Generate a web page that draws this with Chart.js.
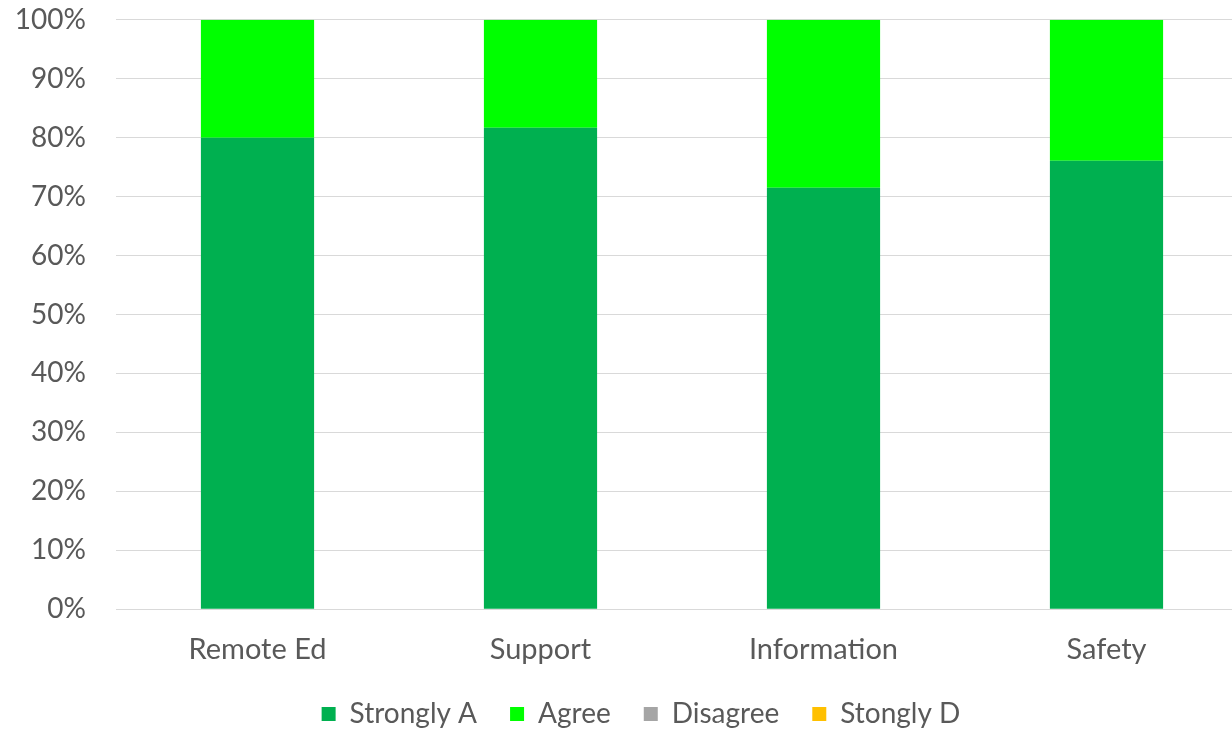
<!DOCTYPE html>
<html><head><meta charset="utf-8">
<script src="https://cdn.jsdelivr.net/npm/chart.js@4"></script>
<style>html,body{margin:0;padding:0;overflow:hidden;background:#fff;width:1232px;height:732px}#wrap{width:1282px;height:792px;position:absolute;left:0;top:-27px}</style>
</head><body><div id="wrap"><canvas id="c"></canvas></div>
<script>
const categories = ["Remote Ed", "Support", "Information", "Safety"];
const stronglyAgree = [80, 81.7, 71.5, 76.1];
const agree = [20, 18.3, 28.5, 23.9];
const disagree = [0, 0, 0, 0];
const stronglyDisagree = [0, 0, 0, 0];
const yTicks = [0,10,20,30,40,50,60,70,80,90,100];

Chart.defaults.font.family = "Lato, 'Open Sans', sans-serif";
Chart.defaults.color = "#595959";
const legendShift = {
  id: 'legendShift',
  afterLayout(chart) {
    const l = chart.legend;
    if (l) { l.left += 17; l.right += 17; l.top -= 23; l.bottom -= 23; }
  }
};
new Chart(document.getElementById('c'), {
  type: 'bar',
  data: {
    labels: categories,
    datasets: [
      {label: 'Strongly A', data: stronglyAgree, backgroundColor: '#00B050'},
      {label: 'Agree', data: agree, backgroundColor: '#00FF00'},
      {label: 'Disagree', data: disagree, backgroundColor: '#A5A5A5'},
      {label: 'Stongly D', data: stronglyDisagree, backgroundColor: '#FFC000'}
    ]
  },
  plugins: [legendShift],
  options: {
    responsive: true, maintainAspectRatio: false, animation: false,
    layout: {padding: {top: 0, right: 34, left: 0, bottom: 4}},
    datasets: {bar: {barPercentage: 0.4, categoryPercentage: 1}},
    plugins: {
      tooltip: {enabled: false},
      legend: {position: 'bottom', labels: {boxWidth: 14, boxHeight: 14, font: {size: 28}, padding: 33, color: '#595959'}}
    },
    scales: {
      x: {stacked: true, grid: {display: false, drawTicks: false}, border: {color: '#d9d9d9', width: 1},
          ticks: {font: {size: 29}, padding: 23, color: '#595959'}},
      y: {stacked: true, min: 0, max: 100, afterBuildTicks: s => { s.ticks = yTicks.map(v => ({value: v})); },
          afterFit: s => { s.width = 116; },
          grid: {color: '#d9d9d9', lineWidth: 1, drawTicks: false}, border: {display: false},
          ticks: {font: {size: 28}, padding: 30, color: '#595959', callback: v => v + '%'}}
    }
  }
});
</script></body></html>
